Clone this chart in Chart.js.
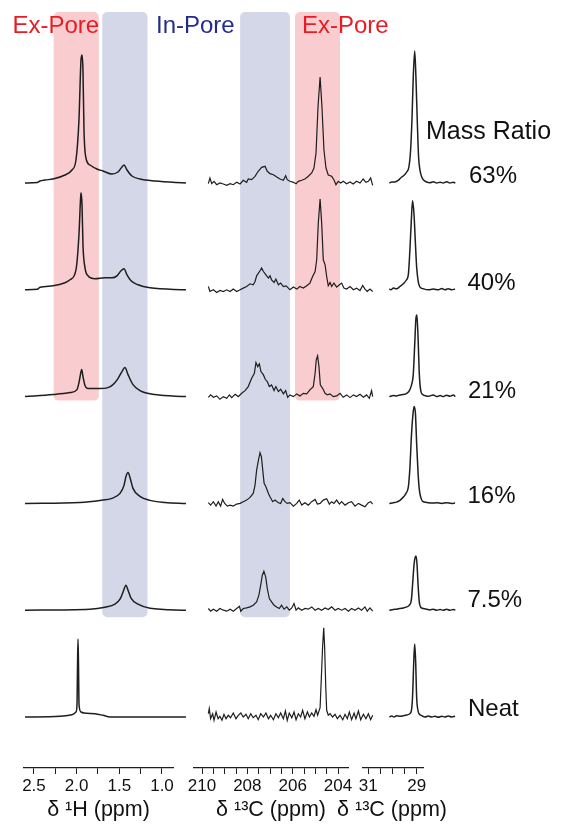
<!DOCTYPE html>
<html>
<head>
<meta charset="utf-8">
<script src="https://cdn.jsdelivr.net/npm/chart.js@4.4.1/dist/chart.umd.min.js"></script>
<style>
  body { margin: 0; background: #fff; }
  #wrap { position: relative; width: 561px; height: 825px; font-family: 'Liberation Sans', Arial, sans-serif; }
  .panel { position: absolute; top: 0; height: 825px; }
  .lbl { position: absolute; line-height: 1; white-space: nowrap; font-size: 24px; color: #111; }
</style>
</head>
<body>
<div id="wrap">
  <div class="panel" style="left:0;width:200px"><canvas id="cH"></canvas></div>
  <div class="panel" style="left:180px;width:210px"><canvas id="cCO"></canvas></div>
  <div class="panel" style="left:320px;width:241px"><canvas id="cMe"></canvas></div>
</div>
<script>
// mass ratios, top to bottom
var samples = ['63%', '40%', '21%', '16%', '7.5%', 'Neat'];

// 1H spectra [ppm, intensity]
var h63 = [[2.605,0],[2.46,0.5],[2.43,2],[2.371,3],[2.277,4],[2.137,8],[2.055,13],[2.008,23],[1.973,63],[1.949,123],[1.937,128],[1.926,113],[1.914,53],[1.891,25],[1.844,18],[1.762,14],[1.691,12],[1.586,9],[1.516,11],[1.469,16],[1.445,18],[1.41,13],[1.352,7],[1.258,4],[1.082,2],[0.719,0]];
var h40 = [[2.605,0],[2.46,0.5],[2.43,2.5],[2.277,4],[2.137,7],[2.078,10],[2.008,20],[1.973,55],[1.955,90],[1.949,97],[1.937,85],[1.926,45],[1.902,22],[1.867,14],[1.785,11],[1.668,12],[1.586,12],[1.527,14],[1.48,19],[1.445,21],[1.41,15],[1.363,9],[1.281,5],[1.141,2],[0.719,0]];
var h21 = [[2.605,0],[2.277,2],[2.078,4],[1.996,7],[1.973,14],[1.949,25],[1.941,27],[1.926,20],[1.902,11],[1.867,8],[1.727,8],[1.633,9],[1.574,12],[1.516,18],[1.469,25],[1.434,29],[1.398,22],[1.34,12],[1.258,6],[1.082,2],[0.719,0]];
var h16 = [[2.605,0],[1.961,1],[1.727,3],[1.586,5],[1.492,10],[1.445,18],[1.422,27],[1.398,31],[1.375,26],[1.34,15],[1.258,7],[1.141,3],[0.965,1],[0.719,0]];
var h7 = [[2.605,0],[1.844,1],[1.668,3],[1.551,6],[1.492,11],[1.457,18],[1.422,25],[1.398,20],[1.363,12],[1.281,6],[1.141,2],[0.719,0]];
var hNeat = [[2.605,0],[2.195,0.7],[2.055,2.3],[2.008,5],[1.996,12],[1.99,50],[1.984,78],[1.978,50],[1.972,12],[1.949,5],[1.914,4],[1.785,3.3],[1.691,1.7],[1.609,0],[0.719,0]];

// 13C carbonyl spectra [ppm, intensity]
var c63 = [[209.72,-0.7],[209.65,5],[209.57,-0.7],[209.47,1.7],[209.35,-1.7],[209.21,0],[209.06,-1],[208.91,-2.3],[208.76,-0.7],[208.62,-1.7],[208.47,0.7],[208.32,-1],[208.18,2.7],[208.03,0.7],[207.96,4],[207.81,3.3],[207.66,6.7],[207.52,11.7],[207.37,15.7],[207.22,16.7],[207.12,11.7],[207.0,9.3],[206.85,8.3],[206.7,6],[206.56,4],[206.41,2.7],[206.31,7.3],[206.24,3.3],[206.12,1.7],[205.97,0.7],[205.85,-0.7],[205.75,1.7],[205.6,2.7],[205.46,4],[205.31,6.7],[205.16,10],[205.06,15],[204.97,30],[204.88,77],[204.79,106],[204.71,77],[204.62,33],[204.53,15],[204.43,8],[204.28,6.7],[204.18,3.3],[204.09,-1.7],[203.99,1.7],[203.88,0],[203.77,1.7],[203.62,-0.7],[203.47,1],[203.33,-1],[203.18,1.7],[203.03,0],[202.89,4],[202.77,0.7],[202.66,1.7],[202.56,5],[202.47,-2.3]];
var c40 = [[209.72,3.3],[209.65,-1.7],[209.5,0],[209.35,-2.7],[209.21,-0.7],[209.06,-1.7],[208.91,0],[208.76,-1.7],[208.62,0.7],[208.47,-1.7],[208.32,0],[208.18,1.7],[208.03,3.3],[207.88,6],[207.74,5],[207.66,8.3],[207.59,14],[207.44,19],[207.37,21.7],[207.29,18.3],[207.18,15],[207.07,11.7],[207.0,14],[206.93,10],[206.82,7.3],[206.74,10.7],[206.63,5],[206.53,6.7],[206.41,3.3],[206.29,4],[206.19,1.7],[206.12,0],[205.97,2.7],[205.82,0.7],[205.68,3.3],[205.53,1.7],[205.38,4],[205.24,6.7],[205.12,13.3],[205.01,18.3],[204.94,30],[204.87,66.7],[204.79,90.7],[204.72,66.7],[204.65,30],[204.57,25],[204.5,13.3],[204.43,4],[204.35,7.3],[204.28,3.3],[204.18,6.7],[204.06,2.7],[203.94,5],[203.84,6.7],[203.74,1.7],[203.62,0.7],[203.47,3.3],[203.32,0],[203.18,1.7],[203.03,-0.7],[202.91,4.3],[202.81,0.7],[202.71,-1.7],[202.59,0.7],[202.47,-1.7]];
var c21 = [[209.72,-0.7],[209.62,1.7],[209.5,-0.7],[209.35,0.7],[209.21,-2.7],[209.06,0],[208.91,-1.7],[208.79,1.7],[208.69,-1],[208.54,2.3],[208.4,0],[208.25,3.3],[208.1,6],[207.96,10],[207.81,18.3],[207.69,23.3],[207.62,34],[207.54,30],[207.47,32.7],[207.4,25],[207.29,21.7],[207.21,17.3],[207.12,15],[207.03,10],[206.93,11.7],[206.82,6],[206.74,10],[206.63,5],[206.53,7.3],[206.41,2.7],[206.31,6],[206.22,-0.7],[206.12,1.7],[205.97,0],[205.82,2.7],[205.68,0.7],[205.53,3.3],[205.38,2.7],[205.24,6.7],[205.09,10],[205.01,23.3],[204.96,36.7],[204.9,40.7],[204.84,30],[204.78,11.7],[204.68,8.3],[204.57,3.3],[204.47,1.7],[204.35,2.7],[204.21,0],[204.06,0.7],[203.91,3.3],[203.77,-0.7],[203.62,1.7],[203.47,-1],[203.32,1.7],[203.18,0],[203.03,2.3],[202.88,-0.7],[202.74,1.7],[202.62,-1.7],[202.52,6],[202.47,0]];
var c16 = [[209.72,0.7],[209.62,-1.7],[209.5,1.7],[209.38,-2.7],[209.28,1.7],[209.18,-2.7],[209.09,4],[209.0,0],[208.88,-2.7],[208.76,-1.7],[208.62,-2.7],[208.47,-0.7],[208.32,0],[208.18,1.7],[208.03,3.3],[207.88,6],[207.74,10],[207.66,18.3],[207.59,33.3],[207.51,43.3],[207.44,50.7],[207.38,46.7],[207.32,33.3],[207.26,20],[207.18,16.7],[207.07,10],[207.0,6.7],[206.88,1.7],[206.78,3.3],[206.63,0.7],[206.53,0],[206.44,5],[206.34,1.7],[206.24,0],[206.12,0.7],[205.97,-2.7],[205.82,0],[205.71,3.3],[205.6,-1.7],[205.46,0.7],[205.31,-1.7],[205.16,1.7],[205.01,4],[204.91,-0.7],[204.79,0],[204.65,3.3],[204.5,4.7],[204.38,-0.7],[204.28,1.7],[204.18,0],[204.06,3.3],[203.94,-0.7],[203.84,1.7],[203.69,-1.7],[203.54,0.7],[203.4,1.7],[203.25,-2.7],[203.1,0],[202.96,-1.7],[202.81,-3.3],[202.66,0.7],[202.56,1.7],[202.47,-0.7]];
var c7 = [[209.72,1.7],[209.62,-1],[209.5,1],[209.35,-1],[209.21,1.7],[209.06,0],[208.91,-1],[208.76,1],[208.62,-1],[208.47,1.7],[208.35,4],[208.29,-1],[208.18,1.7],[208.03,2.3],[207.88,3.3],[207.74,5],[207.59,8.3],[207.49,15],[207.41,25],[207.34,35],[207.27,39],[207.19,33.3],[207.12,21.7],[207.03,11.7],[206.93,8.3],[206.82,5],[206.71,3.3],[206.59,1.7],[206.49,5],[206.38,1],[206.26,3.3],[206.15,0],[206.04,2.3],[205.94,6.7],[205.85,0],[205.75,2.3],[205.6,0],[205.46,1.7],[205.31,1],[205.16,3.3],[205.01,0],[204.87,1.7],[204.72,0],[204.57,2.3],[204.43,0.7],[204.28,3.3],[204.13,0],[203.99,1.7],[203.84,0],[203.69,1.7],[203.54,-1],[203.4,1.7],[203.25,0],[203.1,2.3],[202.96,0],[202.81,3.3],[202.71,-1],[202.59,2.3],[202.47,-1]];
var cNeat = [[209.72,3.3],[209.68,8.3],[209.62,-1.7],[209.53,3.3],[209.47,-3.3],[209.38,5],[209.29,-1.7],[209.21,0.7],[209.12,-3.3],[209.03,2.7],[208.94,-1.7],[208.84,1.7],[208.74,-0.7],[208.62,4],[208.5,-1.7],[208.4,1.7],[208.29,4],[208.18,0],[208.06,2.7],[207.96,-1.7],[207.85,3.3],[207.74,-0.7],[207.62,1.7],[207.52,-2.7],[207.41,3.3],[207.29,0],[207.18,4],[207.07,-1.7],[206.97,1.7],[206.85,-2.7],[206.74,3.3],[206.63,-0.7],[206.53,4],[206.41,-1.7],[206.32,6],[206.24,-3.3],[206.15,4],[206.04,-0.7],[205.94,5],[205.85,-2.7],[205.75,3.3],[205.65,0],[205.56,6.7],[205.46,-1.7],[205.35,5],[205.26,0],[205.16,4],[205.06,0.7],[204.97,7.3],[204.9,1.7],[204.79,9.3],[204.74,36.7],[204.68,70],[204.63,89.3],[204.59,70],[204.54,30],[204.5,6.7],[204.43,1.7],[204.35,3.3],[204.24,0],[204.13,2.7],[204.03,-1.7],[203.91,1.7],[203.79,-2.7],[203.69,2.7],[203.59,-1.7],[203.5,5],[203.4,-2.7],[203.29,4],[203.21,-1.7],[203.1,6],[203.0,-2.7],[202.88,2.7],[202.77,-1.7],[202.66,3.3],[202.56,-2.7],[202.47,1.7]];

// 13C methyl spectra [ppm, intensity]
var m63 = [[30.13,0],[30.03,1],[29.9,1],[29.76,2.7],[29.62,6],[29.52,7.7],[29.41,11],[29.32,16],[29.25,32.7],[29.19,66],[29.14,106],[29.08,132],[29.03,106],[28.97,59.3],[28.92,26],[28.86,12.7],[28.79,6],[28.7,2.7],[28.59,1],[28.45,0.3],[28.31,1.3],[28.17,0],[28.03,0.7],[27.9,0],[27.76,1.3],[27.62,0],[27.48,0.7],[27.4,0]];
var m40 = [[30.13,1],[30.07,0],[29.96,1.7],[29.83,1],[29.69,3.3],[29.55,6],[29.44,9.3],[29.34,16],[29.28,39.3],[29.22,69.3],[29.17,89],[29.11,76],[29.05,46],[29.0,22.7],[28.93,7.7],[28.86,2.7],[28.72,1],[28.52,0],[28.31,0.7],[28.1,0],[27.96,1.3],[27.83,0],[27.69,1],[27.55,0],[27.41,0.7]];
var m21 = [[30.13,0],[29.96,1],[29.83,0.7],[29.69,1.7],[29.55,2],[29.41,3.3],[29.3,6],[29.22,11],[29.14,22],[29.08,52],[29.03,78],[28.99,81.7],[28.94,58],[28.89,22.7],[28.83,6],[28.75,2],[28.65,1],[28.52,0.3],[28.31,1.7],[28.17,0],[28.03,1],[27.9,0],[27.76,1.3],[27.62,0.3],[27.48,1.7],[27.4,0]];
var m16 = [[30.13,0],[29.96,0.7],[29.83,1.3],[29.69,3],[29.55,6.3],[29.44,10],[29.34,17],[29.28,35],[29.21,70],[29.14,92],[29.1,97],[29.05,90],[29.0,60],[28.94,30],[28.89,14],[28.83,6],[28.75,2],[28.59,1],[28.38,0.3],[28.17,0.7],[27.96,0],[27.76,0.7],[27.55,0],[27.41,0.3]];
var m7 = [[30.13,0],[29.96,0.7],[29.83,1],[29.69,1.7],[29.55,2.3],[29.41,3.3],[29.3,5],[29.22,10],[29.17,25],[29.11,45],[29.07,52],[29.03,54.3],[28.99,48],[28.94,25],[28.89,8],[28.83,3],[28.72,1.7],[28.59,1],[28.45,0.3],[28.31,1],[28.17,0],[28.03,0.7],[27.9,0],[27.76,1],[27.62,0],[27.48,0.7],[27.4,0]];
var mNeat = [[30.13,0],[30.03,1],[29.94,0],[29.83,1.3],[29.69,0.7],[29.55,1.3],[29.41,2],[29.3,3],[29.22,6],[29.17,20],[29.12,55],[29.08,73],[29.04,55],[29.0,20],[28.94,6],[28.89,3],[28.79,1.3],[28.65,0],[28.52,1],[28.38,0],[28.24,0.7],[28.1,-0.3],[27.96,0.7],[27.83,0],[27.69,1],[27.55,0],[27.41,0.7]];

// labelled ticks
var hTicks = [2.5, 2.0, 1.5, 1.0];
var cTicks = [210, 208, 206, 204];
var mTicks = [31, 29];

// shaded regions (ppm)
var exPoreH = [2.27, 1.74];
var inPoreH = [1.70, 1.17];
var inPoreC = [208.32, 206.12];
var exPoreC = [205.90, 203.91];

var PINK = 'rgb(249,205,208)';
var BLUE = 'rgb(212,215,232)';
var INK = '#1e1e1e';

// vertical stacking of the spectra
function offset(i) { return 51 + 106.8 * (5 - i); }

Chart.defaults.font.family = "'Liberation Sans', Arial, sans-serif";
Chart.defaults.color = '#111';

var bandPlugin = {
  id: 'bands',
  beforeDatasetsDraw: function (chart, args, opts) {
    var ctx = chart.ctx, x = chart.scales.x, y = chart.scales.y;
    (opts.list || []).forEach(function (b) {
      var x1 = x.getPixelForValue(b.range[0]), x2 = x.getPixelForValue(b.range[1]);
      var y1 = y.getPixelForValue(offset(0) + 171), y2 = y.getPixelForValue(offset(b.last) - b.pad);
      ctx.save();
      ctx.fillStyle = b.color;
      ctx.beginPath();
      if (ctx.roundRect) ctx.roundRect(Math.min(x1, x2), y1, Math.abs(x2 - x1), y2 - y1, 5);
      else ctx.rect(Math.min(x1, x2), y1, Math.abs(x2 - x1), y2 - y1);
      ctx.fill();
      ctx.restore();
    });
  }
};

function rysujPanel(id, traces, xmin, xmax, step, labels, fmt, bands, pad, title, smooth, lw) {
  var datasets = traces.map(function (t, i) {
    return {
      label: samples[i],
      data: t.map(function (p) { return {x: p[0], y: p[1] + offset(i)}; }),
      borderColor: INK,
      borderWidth: lw,
      pointRadius: 0,
      fill: false,
      clip: false,
      tension: smooth ? 0.4 : 0,
      cubicInterpolationMode: smooth ? 'monotone' : 'default'
    };
  });
  return new Chart(document.getElementById(id), {
    type: 'line',
    data: {datasets: datasets},
    plugins: [bandPlugin],
    options: {
      responsive: true,
      maintainAspectRatio: false,
      animation: false,
      layout: {padding: {left: pad[0], right: pad[1], top: 8, bottom: 0}},
      plugins: {legend: {display: false}, tooltip: {enabled: false}, bands: {list: bands}},
      scales: {
        x: {
          type: 'linear', reverse: true, min: xmin, max: xmax,
          border: {display: true, color: INK, width: 1.3},
          grid: {display: true, drawOnChartArea: false, drawTicks: true, tickLength: 6, color: INK, lineWidth: 1},
          ticks: {
            stepSize: step, includeBounds: false, autoSkip: false, maxRotation: 0, maxTicksLimit: 100,
            padding: 2, color: '#111', font: {size: 17},
            callback: function (v) {
              return labels.some(function (l) { return Math.abs(l - v) < 1e-6; }) ? fmt(v) : '';
            }
          },
          title: {display: !!title, text: title, color: '#111', font: {size: 21.5}, padding: {top: 0, bottom: 2}},
          afterFit: function (s) { s.height = 57; }
        },
        y: {display: false, min: 0, max: 760}
      }
    }
  });
}

rysujPanel('cH', [h63, h40, h21, h16, h7, hNeat], 0.871, 2.617, 0.25, hTicks,
  function (v) { return v.toFixed(1); },
  [{range: exPoreH, color: PINK, last: 2, pad: 4}, {range: inPoreH, color: BLUE, last: 4, pad: 7}],
  [24, 27], 'δ ¹H (ppm)', true, 1.5);

rysujPanel('cCO', [c63, c40, c21, c16, c7, cNeat], 203.559, 210.353, 0.5, cTicks,
  function (v) { return String(Math.round(v)); },
  [{range: inPoreC, color: BLUE, last: 4, pad: 7}, {range: exPoreC, color: PINK, last: 2, pad: 4}],
  [14, 42], 'δ ¹³C (ppm)', false, 1.2);

// the narrow methyl axis cannot hold its own title, so it is set as text below
rysujPanel('cMe', [m63, m40, m21, m16, m7, mNeat], 28.737, 31.219, 0.5, mTicks,
  function (v) { return String(Math.round(v)); },
  [], [43, 138], '', true, 1.5);

// text annotations
var wrap = document.getElementById('wrap');
function napis(text, left, top, color, size) {
  var d = document.createElement('div');
  d.className = 'lbl';
  d.textContent = text;
  d.style.left = left + 'px';
  d.style.top = top + 'px';
  if (color) d.style.color = color;
  if (size) d.style.fontSize = size + 'px';
  wrap.appendChild(d);
  return d;
}
napis('Ex-Pore', 12.5, 13, 'rgb(232,28,36)');
napis('In-Pore', 156, 13, 'rgb(36,44,138)');
napis('Ex-Pore', 302, 13, 'rgb(232,28,36)');
napis('Mass Ratio', 426, 117.5, null, 25);
var labelTops = [162.5, 270, 377.5, 483.3, 586.6, 695.5];
var labelLefts = [469, 467.5, 468, 467.5, 467.5, 468];
samples.forEach(function (s, i) { napis(s, labelLefts[i], labelTops[i]); });

var t3 = napis('δ ¹³C (ppm)', 312, 799, null, 21.5);
t3.style.width = '160px';
t3.style.textAlign = 'center';
</script>
</body>
</html>
